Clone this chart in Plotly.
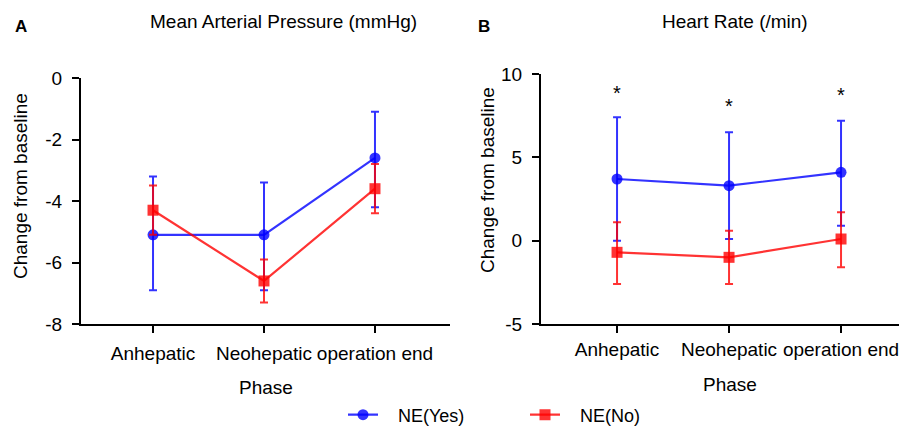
import plotly.graph_objects as go

# ---- data ----
phases = ["Anhepatic", "Neohepatic", "operation end"]

map_yes = [-5.1, -5.1, -2.6]
map_yes_hi = [-3.2, -3.4, -1.1]
map_yes_lo = [-6.9, -6.9, -4.2]
map_no = [-4.3, -6.6, -3.6]
map_no_hi = [-3.5, -5.9, -2.8]
map_no_lo = [-5.1, -7.3, -4.4]

hr_yes = [3.7, 3.3, 4.1]
hr_yes_hi = [7.4, 6.5, 7.2]
hr_yes_lo = [0.0, 0.1, 0.9]
hr_no = [-0.7, -1.0, 0.1]
hr_no_hi = [1.1, 0.6, 1.7]
hr_no_lo = [-2.6, -2.6, -1.6]

star_y = [9.0, 8.2, 8.85]

map_ticks = [0, -2, -4, -6, -8]
map_ticklabels = ["0", "-2", "-4", "-6", "-8"]
hr_ticks = [10, 5, 0, -5]
hr_ticklabels = ["10", "5", "0", "-5"]

# page body has an 8px margin: figure is sized/positioned to compensate
OFF = 8
W, H = 899, 418
FONT = "Liberation Sans, Arial, sans-serif"
BLUE = "rgba(0,0,255,0.8)"
RED = "rgba(255,0,0,0.8)"
NB = "\u00a0"


def px_x(p):
    return (p - OFF) / W


def px_y(p):
    return 1 - (p - OFF) / H


def errs(mean, hi, lo):
    up = [round(h - m, 4) for h, m in zip(hi, mean)]
    dn = [round(m - l, 4) for m, l in zip(mean, lo)]
    return up, dn


fig = go.Figure()


def add_series(y, hi, lo, name, color, symbol, xa, ya, show):
    up, dn = errs(y, hi, lo)
    fig.add_trace(go.Scatter(
        x=phases, y=y, name=NB * 3 + name, mode="lines+markers",
        line=dict(color=color, width=2.2),
        marker=dict(color=color, size=11, symbol=symbol, line=dict(width=0)),
        error_y=dict(type="data", array=up, arrayminus=dn, symmetric=False,
                     color=color, thickness=2, width=4),
        xaxis=xa, yaxis=ya, showlegend=show,
    ))


add_series(map_yes, map_yes_hi, map_yes_lo, "NE(Yes)", BLUE, "circle", "x", "y", True)
add_series(map_no, map_no_hi, map_no_lo, "NE(No)", RED, "square", "x", "y", True)
add_series(hr_yes, hr_yes_hi, hr_yes_lo, "NE(Yes)", BLUE, "circle", "x2", "y2", False)
add_series(hr_no, hr_no_hi, hr_no_lo, "NE(No)", RED, "square", "x2", "y2", False)

axis_common = dict(
    showline=True, linecolor="black", linewidth=2,
    ticks="outside", ticklen=7, tickwidth=2, tickcolor="black",
    showgrid=False, zeroline=False, fixedrange=True, automargin=False,
    tickfont=dict(family=FONT, size=19, color="black"),
)

fig.update_layout(
    width=W, height=H,
    margin=dict(l=0, r=0, t=0, b=0, pad=0, autoexpand=False),
    paper_bgcolor="white", plot_bgcolor="white",
    font=dict(family=FONT, size=19, color="black"),
    xaxis=dict(domain=[px_x(81), px_x(450)], range=[-0.649, 2.676],
               type="category", anchor="y", ticklabelstandoff=4, **axis_common),
    yaxis=dict(domain=[px_y(324), px_y(78)], range=[-8, 0],
               tickvals=map_ticks, ticktext=map_ticklabels,
               anchor="x", ticklabelstandoff=6, **axis_common),
    xaxis2=dict(domain=[px_x(541), 1.0], range=[-0.679, 2.589],
                type="category", anchor="y2", ticklabelstandoff=0, **axis_common),
    yaxis2=dict(domain=[px_y(324), px_y(74)], range=[-5, 10],
                tickvals=hr_ticks, ticktext=hr_ticklabels,
                anchor="x2", ticklabelstandoff=6, **axis_common),
    legend=dict(orientation="h", x=px_x(343), xanchor="left",
                y=px_y(415), yanchor="middle",
                font=dict(family=FONT, size=18, color="black"),
                bgcolor="rgba(0,0,0,0)", entrywidth=137),
)

ann = []


def text(x, y, s, size=19, bold=False, angle=0):
    ann.append(dict(x=px_x(x), y=px_y(y), xref="paper", yref="paper",
                    text=s, showarrow=False, textangle=angle,
                    xanchor="center", yanchor="middle",
                    font=dict(family=FONT, size=size, color="black",
                              weight="bold" if bold else "normal")))


text(21, 26, "A", size=17, bold=True)
text(484, 26, "B", size=17, bold=True)
text(283, 22, "Mean Arterial Pressure (mmHg)")
text(735, 22, "Heart Rate (/min)")
text(20, 186, "Change from baseline", angle=-90)
text(488, 180, "Change from baseline", angle=-90)
text(266, 387, "Phase")
text(730, 384, "Phase")

for p, sy in zip(phases, star_y):
    ann.append(dict(x=p, y=sy, xref="x2", yref="y2", text="*", showarrow=False,
                    yanchor="middle", yshift=-2,
                    font=dict(family=FONT, size=20, color="black")))

fig.update_layout(annotations=ann)
fig.write_html("out.html")
